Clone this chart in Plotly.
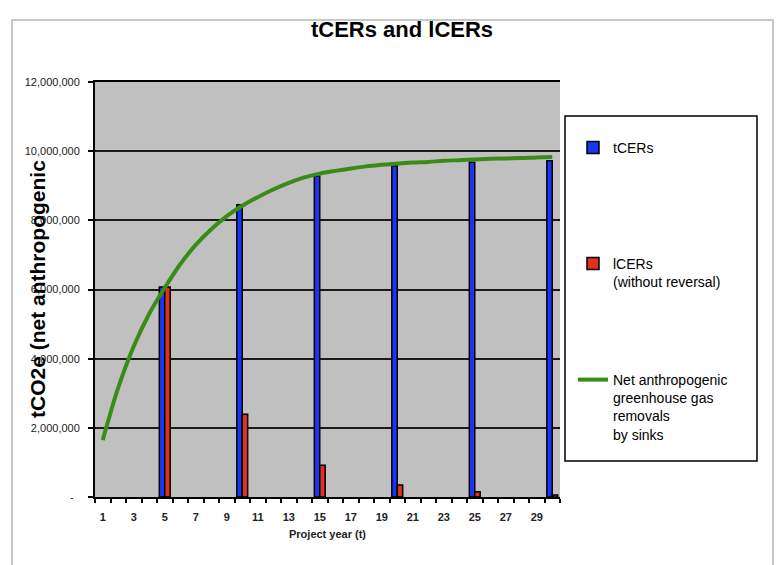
import plotly.graph_objects as go

# ---- data ----
years = list(range(1, 31))
net_removals = [1645000, 3160000, 4360000, 5300000, 6050000, 6730000, 7290000, 7740000,
                8120000, 8420000, 8670000, 8890000, 9080000, 9240000, 9350000, 9430000,
                9500000, 9560000, 9610000, 9640000, 9670000, 9690000, 9720000, 9740000,
                9760000, 9780000, 9790000, 9800000, 9820000, 9830000]
verification_years = [5, 10, 15, 20, 25, 30]
tcers = [6070000, 8450000, 9280000, 9580000, 9680000, 9720000]
lcers = [6070000, 2390000, 920000, 350000, 150000, 60000]
y_tickvals = [0, 2000000, 4000000, 6000000, 8000000, 10000000, 12000000]
y_ticktext = ["-\u00a0\u00a0", "2,000,000", "4,000,000", "6,000,000", "8,000,000", "10,000,000", "12,000,000"]
x_tickvals = list(range(1, 30, 2))
x_ticktext = ["<b>%d</b>" % v for v in x_tickvals]

# ---- layout geometry (pixels) ----
W, H = 776, 565
L, R, T, B = 95, 560, 82, 497
def px(xp):
    return (xp - L) / (R - L)
def py(yp):
    return (B - yp) / (B - T)

FONT = "Liberation Sans, Arial, sans-serif"
BLUE = "#1a35f5"
RED = "#e0301e"
GREEN = "#3b8c17"

fig = go.Figure()
fig.add_trace(go.Bar(x=verification_years, y=tcers, name="tCERs", width=0.35, offset=-0.35,
                     marker=dict(color=BLUE, line=dict(color="black", width=1.5)),
                     legend="legend", showlegend=True))
fig.add_trace(go.Bar(x=verification_years, y=lcers, name="lCERs<br>(without reversal)",
                     width=0.35, offset=0.0,
                     marker=dict(color=RED, line=dict(color="black", width=1.5)),
                     legend="legend2", showlegend=True))
fig.add_trace(go.Scatter(x=years, y=net_removals, mode="lines",
                         name="Net anthropogenic<br>greenhouse gas<br>removals<br>by sinks",
                         line=dict(color=GREEN, width=4, shape="spline"),
                         legend="legend3", showlegend=True))

legend_common = dict(bgcolor="rgba(0,0,0,0)", borderwidth=0, font=dict(family=FONT, size=14, color="black"),
                     xanchor="left", yanchor="top", itemwidth=30, valign="top")

fig.update_layout(
    width=W, height=H,
    showlegend=True,
    margin=dict(l=L, r=W - R, t=T, b=H - B),
    paper_bgcolor="white", plot_bgcolor="#c0c0c0",
    font=dict(family=FONT, color="black"),
    barmode="overlay",
    title=dict(text="<b>tCERs and lCERs</b>", x=402 / W, xanchor="center", xref="container",
               y=1 - 29 / H, yanchor="middle", yref="container",
               font=dict(size=22, family=FONT, color="black")),
    xaxis=dict(range=[0.5, 30.5], tickvals=x_tickvals, ticktext=x_ticktext, ticks="",
               tickfont=dict(size=11, family=FONT, color="#222"), ticklabelstandoff=9,
               showgrid=False, zeroline=False, showline=True, linecolor="black", linewidth=2,
               mirror=True,
               minor=dict(tick0=0.5, dtick=1, ticks="outside", ticklen=4, tickcolor="black", tickwidth=1.5, showgrid=False),
               title=dict(text="<b>Project year (t)</b>", font=dict(size=11, family=FONT, color="#222"), standoff=8)),
    yaxis=dict(range=[0, 12000000], tickvals=y_tickvals, ticktext=y_ticktext,
               tickfont=dict(size=11, family=FONT, color="#222"), ticklabelstandoff=6,
               ticks="outside", ticklen=5, tickcolor="black", tickwidth=1.5,
               showgrid=True, gridcolor="#1a1a1a", gridwidth=1.5, zeroline=False,
               showline=True, linecolor="black", linewidth=2),
    legend=dict(x=px(573), y=py(132), **legend_common),
    legend2=dict(x=px(573), y=py(248), **legend_common),
    legend3=dict(x=px(573), y=py(364), **legend_common),
    shapes=[
        dict(type="rect", xref="paper", yref="paper", x0=px(565), x1=px(757), y0=py(461), y1=py(116),
             line=dict(color="black", width=1.5), fillcolor="rgba(0,0,0,0)", layer="above"),
        dict(type="rect", xref="paper", yref="paper", x0=px(12), x1=px(773), y0=py(580), y1=py(20),
             line=dict(color="#c8c8c8", width=2), fillcolor="rgba(0,0,0,0)", layer="below"),
    ],
    annotations=[
        dict(text="<b>tCO2e (net anthropogenic</b>", textangle=-90, xref="paper", yref="paper",
             x=px(37), y=py(289), xanchor="center", yanchor="middle", showarrow=False,
             font=dict(size=21, family=FONT, color="black")),
    ],
)

fig.write_html("out.html", config={"displayModeBar": False},
               post_script="document.body.style.margin='0px';")
